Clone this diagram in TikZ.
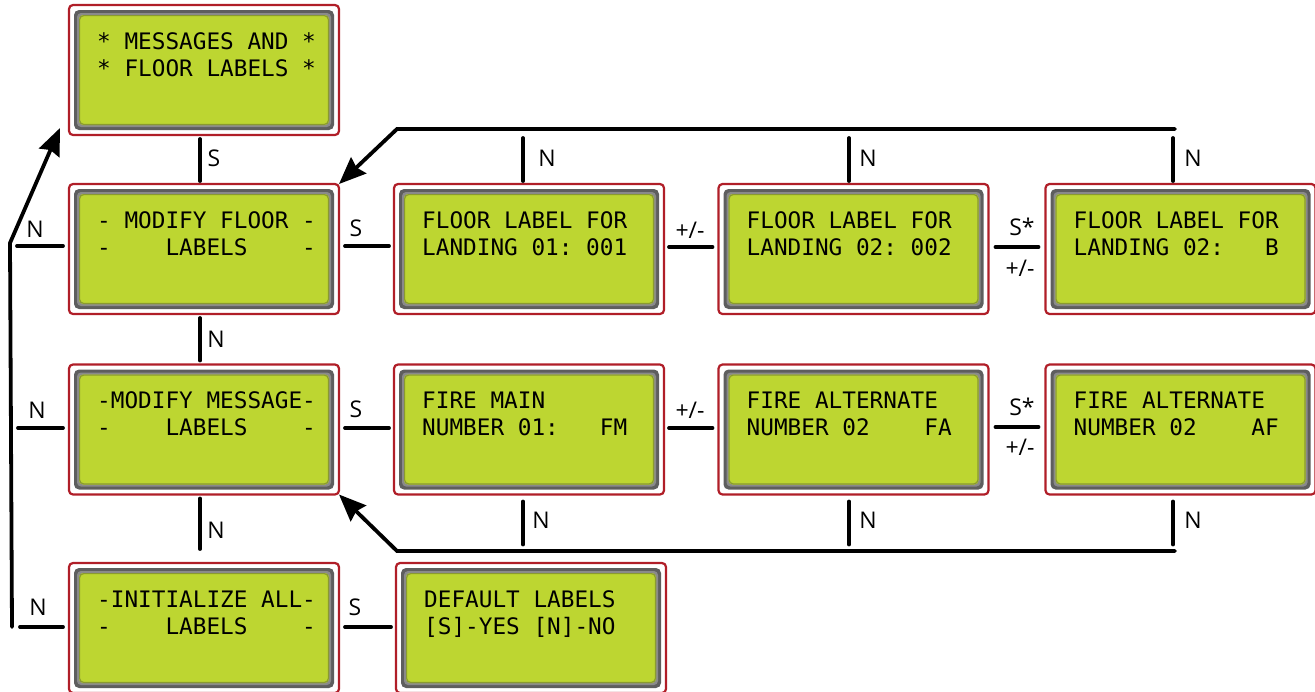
\documentclass[tikz,border=0pt]{standalone}
\usepackage{fontspec}
\setmainfont{Open Sans}
\newfontfamily\lcdfont{DejaVu Sans Mono}
\usetikzlibrary{arrows.meta}
\definecolor{lcdred}{HTML}{B01E28}
\definecolor{lcdgreen}{HTML}{BDD631}
\definecolor{lcdgray}{HTML}{5E5E5E}
\definecolor{lcdgraylt}{HTML}{8A8A8A}
\definecolor{lcdshadow}{HTML}{8A9A30}
\tikzset{
  lcd/.style={minimum width=270pt, minimum height=130pt, rounded corners=4pt,
    draw=lcdred, line width=2.2pt, fill=white, inner sep=0pt, outer sep=0pt},
  lcdtext/.style={anchor=base west, inner sep=0pt, font=\lcdfont\fontsize{22.7}{27}\selectfont},
  conn/.style={line width=3.8pt, line cap=round},
  arr/.style={conn, -{Stealth[length=27pt,width=22pt,inset=3pt]}},
  lbl/.style={inner sep=0pt, font=\fontsize{23}{27}\selectfont},
}
\newcommand\lcdbox[5]{%
  \node[lcd] (#1) at (#2,#3) {};
  \fill[lcdgray, rounded corners=5pt] ([shift={(5pt,-5pt)}]#1.north west) rectangle ([shift={(-5pt,5pt)}]#1.south east);
  \fill[lcdgraylt, rounded corners=4pt] ([shift={(8pt,-8pt)}]#1.north west) rectangle ([shift={(-8pt,8pt)}]#1.south east);
  \fill[lcdgreen, rounded corners=4pt] ([shift={(10pt,-10pt)}]#1.north west) rectangle ([shift={(-10pt,10pt)}]#1.south east);
  \draw[lcdshadow, line width=1.2pt, rounded corners=4pt] ([shift={(10.6pt,-10.6pt)}]#1.north west) rectangle ([shift={(-10.6pt,10.6pt)}]#1.south east);
  \node[lcdtext] (#1-a) at ([shift={(28pt,-44pt)}]#1.north west) {#4};
  \node[lcdtext] (#1-b) at ([shift={(28pt,-71pt)}]#1.north west) {#5};
}
\begin{document}
\begin{tikzpicture}[x=1pt,y=-1pt]
\useasboundingbox (0,0) rectangle (1315,691);
% boxes
\lcdbox{b0}{204}{70}{*~MESSAGES~AND~*}{*~FLOOR~LABELS~*}
\lcdbox{r2c1}{204}{249}{-~MODIFY~FLOOR~-}{-~~~~LABELS~~~~-}
\lcdbox{r2c2}{529}{249}{FLOOR~LABEL~FOR}{LANDING~01:~001}
\lcdbox{r2c3}{853.5}{249}{FLOOR~LABEL~FOR}{LANDING~02:~002}
\lcdbox{r2c4}{1180.5}{249}{FLOOR~LABEL~FOR}{LANDING~02:~~~B}
\lcdbox{r3c1}{204}{429.5}{-MODIFY~MESSAGE-}{-~~~~LABELS~~~~-}
\lcdbox{r3c2}{529}{429.5}{FIRE~MAIN}{NUMBER~01:~~~FM}
\lcdbox{r3c3}{853.5}{429.5}{FIRE~ALTERNATE}{NUMBER~02~~~~FA}
\lcdbox{r3c4}{1180.5}{429.5}{FIRE~ALTERNATE}{NUMBER~02~~~~AF}
\lcdbox{r4c1}{204}{628}{-INITIALIZE~ALL-}{-~~~~LABELS~~~~-}
\lcdbox{r4c2}{531}{628}{DEFAULT~LABELS}{[S]-YES~[N]-NO}

% free ends
\coordinate (L2) at (17,246);
\coordinate (L3) at (18,428);
\coordinate (L4) at (20,627);
\coordinate (Lbot) at (12,627);
\coordinate (Lmid) at (10,243);
\coordinate (TopR) at (1175,129);
\coordinate (TopL) at (397,129);
\coordinate (BotR) at (1175,551);
\coordinate (BotL) at (397,551);

% vertical stubs column 1
\draw[conn] ([shift={(-4pt,-4pt)}]b0.south) -- ([shift={(-4pt,3pt)}]r2c1.north);
\node[lbl] (lS0) at (214,158) {S};
\draw[conn] ([shift={(-4pt,-4pt)}]r2c1.south) -- ([shift={(-4pt,4pt)}]r3c1.north);
\node[lbl] (lN23) at (216,339) {N};
\draw[conn] ([shift={(-4pt,-4pt)}]r3c1.south) -- ([shift={(-4pt,14pt)}]r4c1.north);
\node[lbl] (lN34) at (216,530) {N};

% left loop
\draw[conn] (L2) -- ([shift={(-6pt,3pt)}]r2c1.west);
\node[lbl] (lN2) at (35,229) {N};
\draw[conn] (L3) -- ([shift={(-6pt,1.5pt)}]r3c1.west);
\node[lbl] (lN3) at (37,410) {N};
\draw[conn] (L4) -- ([shift={(-6pt,1pt)}]r4c1.west);
\node[lbl] (lN4) at (38,607) {N};
\draw[arr] (Lbot) -- (Lmid) -- ([shift={(-9pt,7pt)}]b0.south west);

% row 2 horizontals
\draw[conn] ([shift={(6pt,3pt)}]r2c1.east) -- ([shift={(-5pt,3pt)}]r2c2.west);
\node[lbl] (lS2) at (356,228) {S};
\draw[conn] ([shift={(5pt,2pt)}]r2c2.east) -- ([shift={(-6pt,2pt)}]r2c3.west);
\node[lbl] (lpm2) at (690,230) {+/-};
\draw[conn] ([shift={(7pt,2pt)}]r2c3.east) -- ([shift={(-7pt,2pt)}]r2c4.west);
\node[lbl] (lSs2) at (1022,227) {S*};
\node[lbl] (lpm2b) at (1020,268) {+/-};

% row 3 horizontals
\draw[conn] ([shift={(6pt,1.5pt)}]r3c1.east) -- ([shift={(-5pt,1.5pt)}]r3c2.west);
\node[lbl] (lS3) at (356,409) {S};
\draw[conn] ([shift={(5pt,1.5pt)}]r3c2.east) -- ([shift={(-6pt,1.5pt)}]r3c3.west);
\node[lbl] (lpm3) at (690,410) {+/-};
\draw[conn] ([shift={(7pt,2.5pt)}]r3c3.east) -- ([shift={(-7pt,2.5pt)}]r3c4.west);
\node[lbl] (lSs3) at (1022,407) {S*};
\node[lbl] (lpm3b) at (1020,447) {+/-};

% row 4 horizontal
\draw[conn] ([shift={(6pt,1pt)}]r4c1.east) -- ([shift={(-5pt,1pt)}]r4c2.west);
\node[lbl] (lS4) at (355,607) {S};

% top return loop
\draw[conn] ([shift={(-6pt,3pt)}]r2c2.north) -- ++(0,-43);
\node[lbl] (lNt2) at (547,158) {N};
\draw[conn] ([shift={(-4.5pt,3pt)}]r2c3.north) -- ++(0,-43);
\node[lbl] (lNt3) at (868,158) {N};
\draw[conn] ([shift={(-7.5pt,3pt)}]r2c4.north) -- ++(0,-43);
\node[lbl] (lNt4) at (1193,158) {N};
\draw[arr] (TopR) -- (TopL) -- (r2c1.north east);

% bottom return loop
\draw[conn] ([shift={(-6pt,-7pt)}]r3c2.south) -- ++(0,43);
\node[lbl] (lNb2) at (541,520) {N};
\draw[conn] ([shift={(-4.5pt,-7pt)}]r3c3.south) -- ++(0,43);
\node[lbl] (lNb3) at (868,520) {N};
\draw[conn] ([shift={(-7.5pt,-7pt)}]r3c4.south) -- ++(0,43);
\node[lbl] (lNb4) at (1193,520) {N};
\draw[arr] (BotR) -- (BotL) -- (r3c1.south east);
\end{tikzpicture}
\end{document}
